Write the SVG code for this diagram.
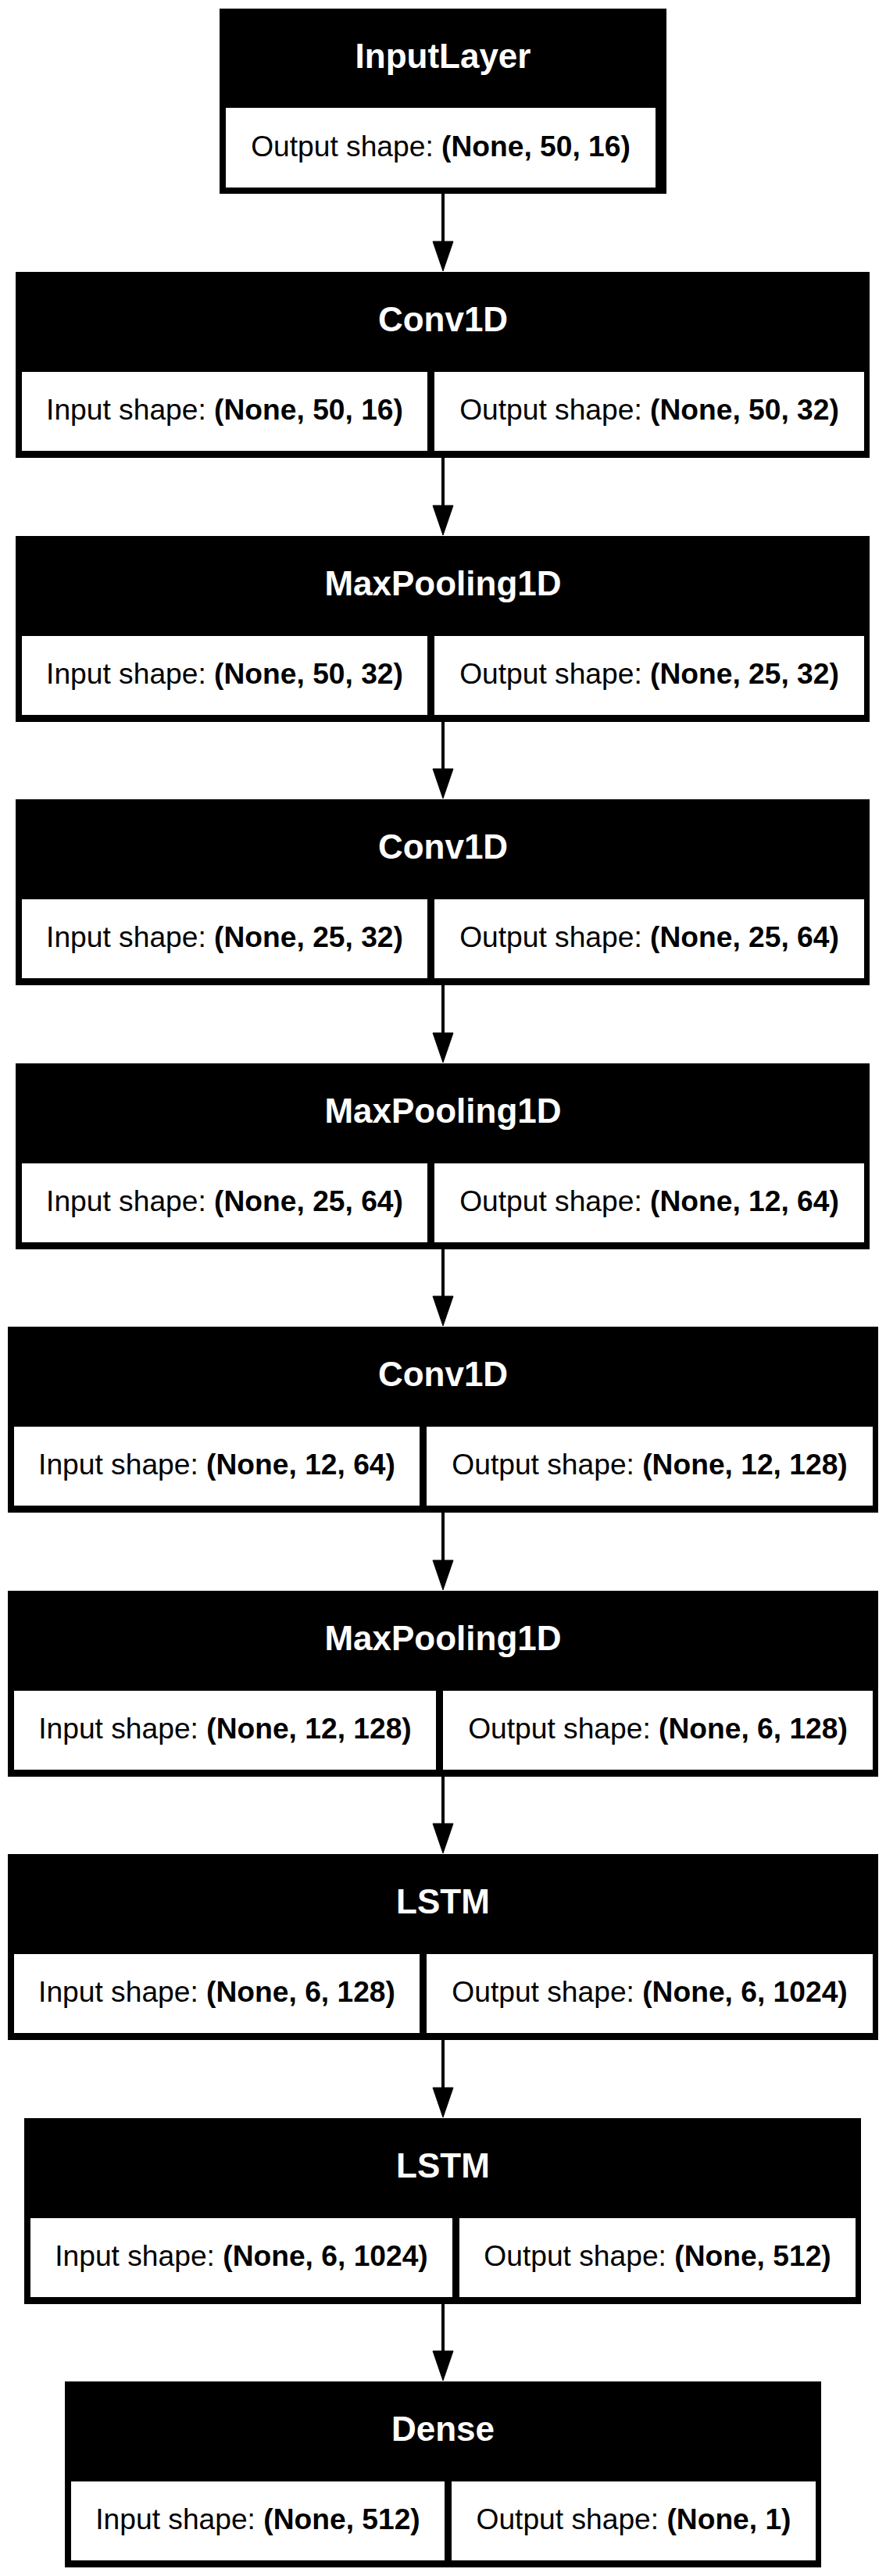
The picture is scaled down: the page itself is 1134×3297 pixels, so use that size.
<svg xmlns="http://www.w3.org/2000/svg" width="1134" height="3297" viewBox="0 0 1134 3297">
<style>
.box{fill:#000}
.cell{fill:#fff}
.title{font-family:"Liberation Sans",Arial,Helvetica,sans-serif;font-weight:bold;font-size:44px;fill:#fff;text-anchor:middle}
.t{font-family:"Liberation Sans",Arial,Helvetica,sans-serif;font-size:37.2px;fill:#000;text-anchor:middle}
.b{font-weight:bold}
.edge{stroke:#000;stroke-width:4;fill:none}
.head{fill:#000;stroke:#000;stroke-width:1}
</style>
<rect width="1134" height="3297" fill="#fff"/>
<g id="connectors">
<line class="edge" x1="567" y1="248" x2="567" y2="311"/><polygon class="head" points="554,309 580,309 567,347"/>
<line class="edge" x1="567" y1="586" x2="567" y2="649"/><polygon class="head" points="554,647 580,647 567,685"/>
<line class="edge" x1="567" y1="924" x2="567" y2="986"/><polygon class="head" points="554,984 580,984 567,1022"/>
<line class="edge" x1="567" y1="1261" x2="567" y2="1324"/><polygon class="head" points="554,1322 580,1322 567,1360"/>
<line class="edge" x1="567" y1="1599" x2="567" y2="1661"/><polygon class="head" points="554,1659 580,1659 567,1697"/>
<line class="edge" x1="567" y1="1936" x2="567" y2="1999"/><polygon class="head" points="554,1997 580,1997 567,2035"/>
<line class="edge" x1="567" y1="2274" x2="567" y2="2336"/><polygon class="head" points="554,2334 580,2334 567,2372"/>
<line class="edge" x1="567" y1="2611" x2="567" y2="2674"/><polygon class="head" points="554,2672 580,2672 567,2710"/>
<line class="edge" x1="567" y1="2949" x2="567" y2="3011"/><polygon class="head" points="554,3009 580,3009 567,3047"/>
</g>
<g id="n1">
<rect class="box" x="281" y="11" width="572" height="237"/>
<rect class="cell" x="289" y="138" width="550" height="102"/>
<text class="title" x="567" y="87">InputLayer</text>
<text class="t" x="564" y="200">Output shape: <tspan class="b">(None, 50, 16)</tspan></text>
</g>
<g id="n2">
<rect class="box" x="20" y="348" width="1093" height="238"/>
<rect class="cell" x="28" y="476" width="519" height="101"/>
<rect class="cell" x="556" y="476" width="550" height="101"/>
<text class="title" x="567" y="424">Conv1D</text>
<text class="t" x="287.5" y="537">Input shape: <tspan class="b">(None, 50, 16)</tspan></text>
<text class="t" x="831" y="537">Output shape: <tspan class="b">(None, 50, 32)</tspan></text>
</g>
<g id="n3">
<rect class="box" x="20" y="686" width="1093" height="238"/>
<rect class="cell" x="28" y="814" width="519" height="101"/>
<rect class="cell" x="556" y="814" width="550" height="101"/>
<text class="title" x="567" y="762">MaxPooling1D</text>
<text class="t" x="287.5" y="875">Input shape: <tspan class="b">(None, 50, 32)</tspan></text>
<text class="t" x="831" y="875">Output shape: <tspan class="b">(None, 25, 32)</tspan></text>
</g>
<g id="n4">
<rect class="box" x="20" y="1023" width="1093" height="238"/>
<rect class="cell" x="28" y="1151" width="519" height="101"/>
<rect class="cell" x="556" y="1151" width="550" height="101"/>
<text class="title" x="567" y="1099">Conv1D</text>
<text class="t" x="287.5" y="1212">Input shape: <tspan class="b">(None, 25, 32)</tspan></text>
<text class="t" x="831" y="1212">Output shape: <tspan class="b">(None, 25, 64)</tspan></text>
</g>
<g id="n5">
<rect class="box" x="20" y="1361" width="1093" height="238"/>
<rect class="cell" x="28" y="1489" width="519" height="101"/>
<rect class="cell" x="556" y="1489" width="550" height="101"/>
<text class="title" x="567" y="1437">MaxPooling1D</text>
<text class="t" x="287.5" y="1550">Input shape: <tspan class="b">(None, 25, 64)</tspan></text>
<text class="t" x="831" y="1550">Output shape: <tspan class="b">(None, 12, 64)</tspan></text>
</g>
<g id="n6">
<rect class="box" x="10" y="1698" width="1114" height="238"/>
<rect class="cell" x="18" y="1826" width="519" height="101"/>
<rect class="cell" x="546" y="1826" width="571" height="101"/>
<text class="title" x="567" y="1774">Conv1D</text>
<text class="t" x="277.5" y="1887">Input shape: <tspan class="b">(None, 12, 64)</tspan></text>
<text class="t" x="831.5" y="1887">Output shape: <tspan class="b">(None, 12, 128)</tspan></text>
</g>
<g id="n7">
<rect class="box" x="10" y="2036" width="1114" height="238"/>
<rect class="cell" x="18" y="2164" width="540" height="101"/>
<rect class="cell" x="567" y="2164" width="550" height="101"/>
<text class="title" x="567" y="2112">MaxPooling1D</text>
<text class="t" x="288" y="2225">Input shape: <tspan class="b">(None, 12, 128)</tspan></text>
<text class="t" x="842" y="2225">Output shape: <tspan class="b">(None, 6, 128)</tspan></text>
</g>
<g id="n8">
<rect class="box" x="10" y="2373" width="1114" height="238"/>
<rect class="cell" x="18" y="2501" width="519" height="101"/>
<rect class="cell" x="546" y="2501" width="571" height="101"/>
<text class="title" x="567" y="2449">LSTM</text>
<text class="t" x="277.5" y="2562">Input shape: <tspan class="b">(None, 6, 128)</tspan></text>
<text class="t" x="831.5" y="2562">Output shape: <tspan class="b">(None, 6, 1024)</tspan></text>
</g>
<g id="n9">
<rect class="box" x="31" y="2711" width="1071" height="238"/>
<rect class="cell" x="39" y="2839" width="540" height="101"/>
<rect class="cell" x="588" y="2839" width="507" height="101"/>
<text class="title" x="567" y="2787">LSTM</text>
<text class="t" x="309" y="2900">Input shape: <tspan class="b">(None, 6, 1024)</tspan></text>
<text class="t" x="841.5" y="2900">Output shape: <tspan class="b">(None, 512)</tspan></text>
</g>
<g id="n10">
<rect class="box" x="83" y="3048" width="968" height="238"/>
<rect class="cell" x="91" y="3176" width="478" height="101"/>
<rect class="cell" x="578" y="3176" width="466" height="101"/>
<text class="title" x="567" y="3124">Dense</text>
<text class="t" x="330" y="3237">Input shape: <tspan class="b">(None, 512)</tspan></text>
<text class="t" x="811" y="3237">Output shape: <tspan class="b">(None, 1)</tspan></text>
</g>
</svg>
